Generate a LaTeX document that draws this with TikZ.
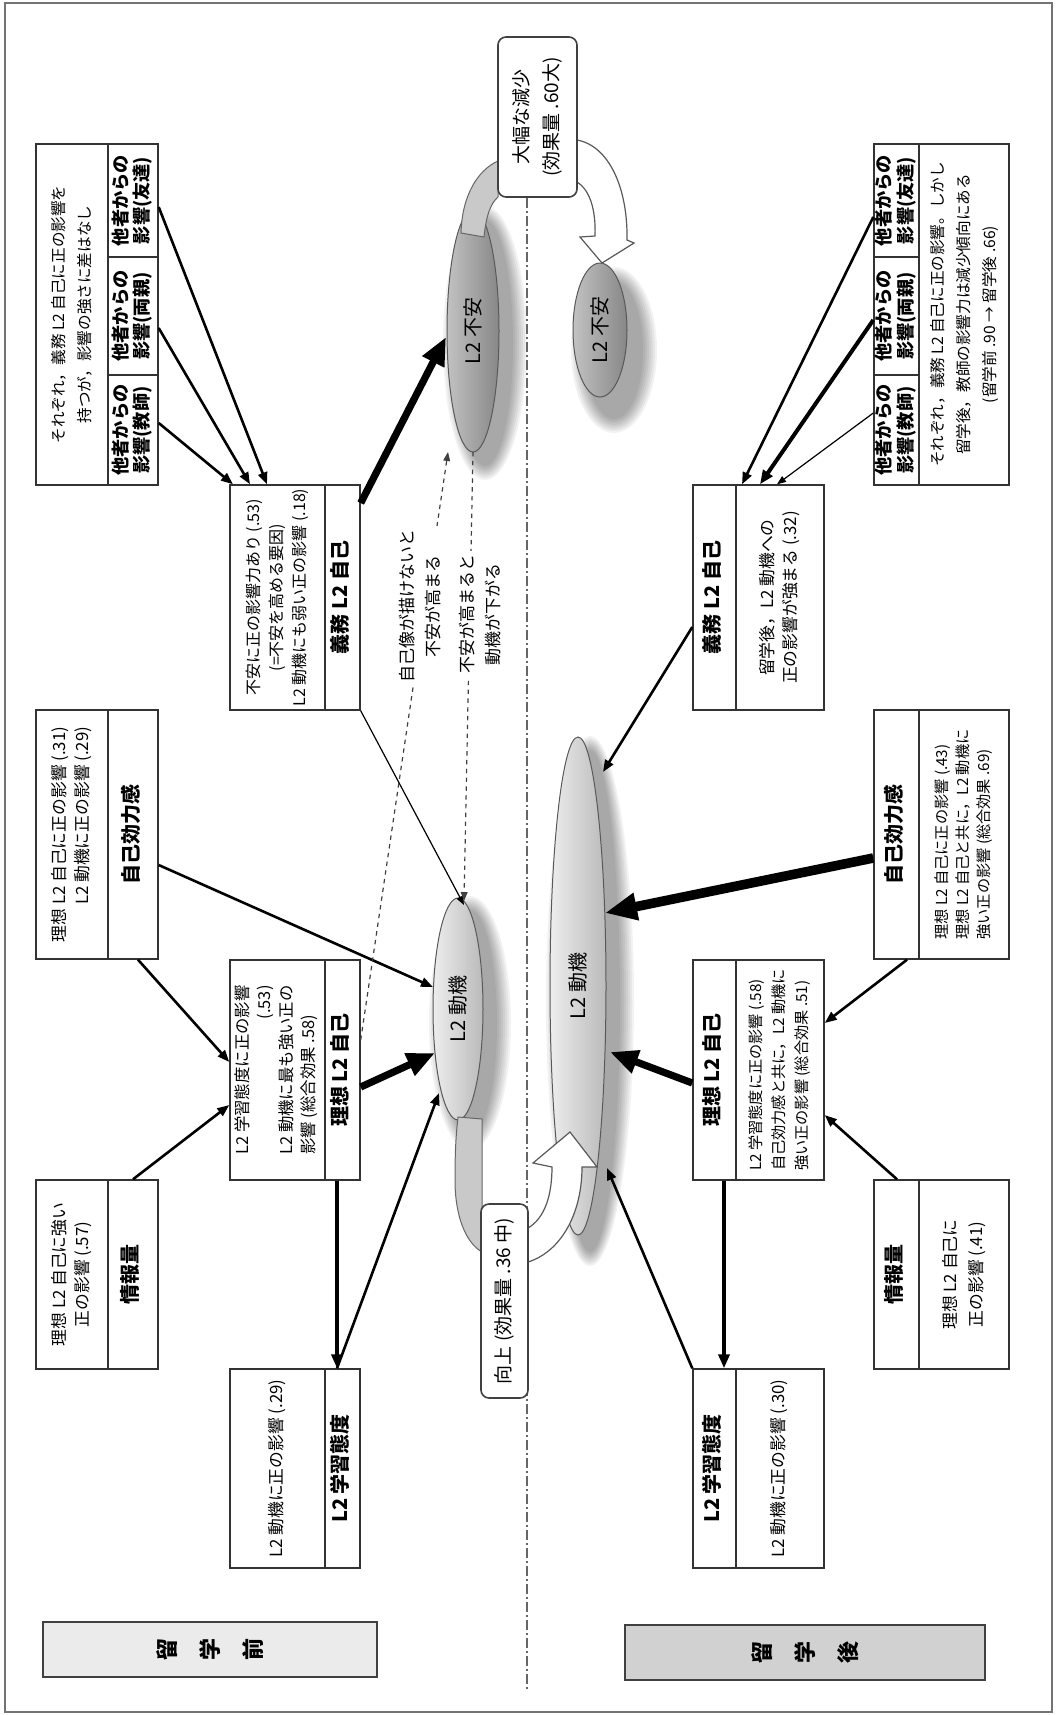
\documentclass[tikz,border=0pt]{standalone}
\usepackage{fontspec}
\setmainfont{Noto Sans CJK JP}
\usepackage{graphicx}
\usetikzlibrary{arrows.meta,calc,shapes.geometric}

% text turned a quarter turn, several lines in one column
\newcommand\vt[2][c]{\rotatebox{90}{\begin{tabular}{@{}#1@{}}#2\end{tabular}}}
% a rectangular compartment given by its corners (x1,y1)-(x2,y2)
\newcommand\cellbox[7][]{%
  \node[cellst,#1,minimum width={(#5-#3)*0.5pt},minimum height={(#6-#4)*0.5pt}]
    (#2) at ({(#3+#5)/2},{(#4+#6)/2}) {#7};}
% soft drop shadow made of stacked translucent ellipses
\newcommand\softshadow[4]{%
  \foreach \k in {0,...,7}{%
    \fill[black,opacity=0.05] (#1,#2) ellipse ({#3+16-2*\k} and {#4+16-2*\k});}}
% three characters in vertical writing
\newcommand\tate[3]{\rotatebox{90}{#1}\hspace{11pt}\rotatebox{90}{#2}\hspace{11pt}\rotatebox{90}{#3}}

\begin{document}
\begin{tikzpicture}[x=0.5pt,y=-0.5pt,
  cellst/.style={draw=black!80,line width=0.7pt,inner sep=0pt,fill=white},
  desc/.style={font=\fontsize{8.4}{11.5}\selectfont},
  lab/.style={font=\fontsize{10}{12}\selectfont\bfseries},
  oth/.style={font=\fontsize{9.1}{9.6}\selectfont\bfseries},
  callout/.style={draw=black!75,line width=0.8pt,rounded corners=4pt,
    font=\fontsize{9.5}{15}\selectfont},
  period/.style={line width=0.8pt,draw=black!75,font=\fontsize{11}{12}\selectfont\bfseries},
  ellst/.style={ellipse,draw=black!65,line width=0.5pt,inner sep=0pt,
    font=\fontsize{10}{12}\selectfont},
  motive/.style={ellst,left color=black!7,right color=black!27},
  anxiety/.style={ellst,left color=black!24,right color=black!47},
  band/.style={fill=black!21,draw=black!60,line width=0.5pt},
  blockarrow/.style={fill=white,draw=black!65,line width=0.6pt},
  axisline/.style={draw=black!60,line width=0.6pt,dash pattern=on 5pt off 1.6pt on 0.8pt off 1.6pt},
  arrM/.style={line width=1.3pt,-{Triangle[length=6pt,width=4.6pt]}},
  arrT/.style={line width=0.6pt,-{Triangle[length=4.5pt,width=3.4pt]}},
  arrP/.style={line width=2pt,-{Triangle[length=7pt,width=5.5pt]}},
  arrV/.style={line width=1.8pt,-{Triangle[length=7pt,width=5.5pt]}},
  arrH/.style={line width=3.6pt,-{Triangle[length=14pt,width=11.5pt]}},
  arrX/.style={line width=4.8pt,-{Triangle[length=16pt,width=13pt]}},
  arrD/.style={line width=0.6pt,draw=black!75,dash pattern=on 2.2pt off 2.2pt,
    -{Triangle[length=4.5pt,width=3.4pt]}},
  dtext/.style={fill=white,inner sep=2pt,font=\fontsize{8.5}{13}\selectfont},
]
\useasboundingbox (0,0) rectangle (1057,1715);
\draw[black!55,line width=0.8pt] (5,3) rectangle (1052,1712);

% shadows behind the ellipses
\softshadow{485}{343}{26}{121}
\softshadow{614}{350}{27}{67}
\softshadow{470}{1023}{25}{111}
\softshadow{590}{1001}{28}{249}

% dividing axis between before and after
\coordinate (axistop) at (527,198);
\coordinate (axisend) at (527,1690);
\draw[axisline] (axistop) -- (axisend);

% ellipses
\node[anxiety,minimum width=26pt,minimum height=121pt] (anxB) at (473,331) {\rotatebox{90}{L2 不安}};
\node[anxiety,minimum width=27pt,minimum height=67pt] (anxA) at (600,330) {\rotatebox{90}{L2 不安}};
\node[motive,minimum width=25pt,minimum height=111pt] (motB) at (458,1009) {\rotatebox{90}{L2 動機}};
\node[motive,minimum width=28pt,minimum height=249pt] (motA) at (578,986) {\rotatebox{90}{L2 動機}};

% change bands and block arrows
\path[band] (461,233) -- (484,237) .. controls (486,217) and (490,204) .. (498,197)
  -- (498,161) .. controls (478,170) and (462,195) .. cycle;
\path[band] (458,1117) -- (482,1119) -- (482,1252) .. controls (465,1242) and (455,1215) .. (455,1180)
  .. controls (455,1150) and (456,1135) .. cycle;
\path[blockarrow] (577,140) .. controls (610,146) and (628,190) .. (627,240) -- (634,243) -- (602,263)
  -- (580,237) -- (595,236) .. controls (596,210) and (590,190) .. (577,182) -- cycle;
\path[blockarrow] (528,1228) .. controls (545,1218) and (552,1195) .. (552,1167) -- (533,1163)
  -- (570,1132) -- (597,1167) -- (582,1167) .. controls (582,1215) and (560,1252) .. (528,1262) -- cycle;

% callouts
\cellbox[callout]{dec}{498}{37}{577}{197}{\vt{大幅な減少\\(効果量 .60大)}}
\cellbox[callout]{inc}{481}{1204}{528}{1398}{\vt{向上 (効果量 .36 中)}}

% ---- before ----
\cellbox[desc,font=\fontsize{7.8}{13}\selectfont]{othBd}{36}{144}{108}{485}{\vt{それぞれ，義務 L2 自己に正の影響を\\持つが，影響の強さに差はなし}}
\cellbox[oth]{othB1}{108}{144}{158}{257}{\vt{他者からの\\影響(友達)}}
\cellbox[oth]{othB2}{108}{257}{158}{375}{\vt{他者からの\\影響(両親)}}
\cellbox[oth]{othB3}{108}{375}{158}{485}{\vt{他者からの\\影響(教師)}}
\cellbox[desc]{effBd}{36}{710}{108}{959}{\vt[r]{理想 L2 自己に正の影響 (.31)\\L2 動機に正の影響 (.29)}}
\cellbox[lab]{effBl}{108}{710}{158}{959}{\vt{自己効力感}}
\cellbox[desc]{infBd}{36}{1180}{108}{1369}{\vt{理想 L2 自己に強い\\正の影響 (.57)}}
\cellbox[lab]{infBl}{108}{1180}{158}{1369}{\vt{情報量}}
\cellbox[desc,font=\fontsize{8}{11.5}\selectfont]{oblBd}{230}{485}{325}{710}{\vt{不安に正の影響力あり (.53)\\(=不安を高める要因)\\L2 動機にも弱い正の影響 (.18)}}
\cellbox[lab]{oblBl}{325}{485}{360}{710}{\vt{義務 L2 自己}}
\cellbox[desc,font=\fontsize{8.2}{11}\selectfont]{ideBd}{230}{960}{325}{1180}{\vt[l]{L2 学習態度に正の影響\\\hfill(.53)\\L2 動機に最も強い正の\\影響 (総合効果 .58)}}
\cellbox[lab]{ideBl}{325}{960}{360}{1180}{\vt{理想 L2 自己}}
\cellbox[desc]{lrnBd}{230}{1369}{325}{1568}{\vt{L2 動機に正の影響 (.29)}}
\cellbox[lab]{lrnBl}{325}{1369}{360}{1568}{\vt{L2 学習態度}}

% ---- after ----
\cellbox[desc,font=\fontsize{7.8}{13}\selectfont]{othAd}{919}{144}{1009}{485}{\vt{それぞれ，義務 L2 自己に正の影響。しかし\\留学後，教師の影響力は減少傾向にある\\(留学前 .90 → 留学後 .66)}}
\cellbox[oth]{othA1}{874}{144}{919}{257}{\vt{他者からの\\影響(友達)}}
\cellbox[oth]{othA2}{874}{257}{919}{375}{\vt{他者からの\\影響(両親)}}
\cellbox[oth]{othA3}{874}{375}{919}{485}{\vt{他者からの\\影響(教師)}}
\cellbox[lab]{oblAl}{693}{485}{736}{710}{\vt{義務 L2 自己}}
\cellbox[desc]{oblAd}{736}{485}{824}{710}{\vt{留学後，L2 動機への\\正の影響が強まる (.32)}}
\cellbox[lab]{effAl}{874}{710}{919}{959}{\vt{自己効力感}}
\cellbox[desc,font=\fontsize{7.6}{10.5}\selectfont]{effAd}{919}{710}{1009}{959}{\vt[l]{理想 L2 自己に正の影響 (.43)\\理想 L2 自己と共に，L2 動機に\\強い正の影響 (総合効果 .69)}}
\cellbox[lab]{ideAl}{693}{960}{736}{1180}{\vt{理想 L2 自己}}
\cellbox[desc,font=\fontsize{7.6}{11.5}\selectfont]{ideAd}{736}{960}{824}{1180}{\vt[l]{L2 学習態度に正の影響 (.58)\\自己効力感と共に，L2 動機に\\強い正の影響 (総合効果 .51)}}
\cellbox[lab]{infAl}{874}{1180}{919}{1369}{\vt{情報量}}
\cellbox[desc,font=\fontsize{8.4}{13}\selectfont]{infAd}{919}{1180}{1009}{1369}{\vt{理想 L2 自己に\\正の影響 (.41)}}
\cellbox[lab]{lrnAl}{693}{1369}{736}{1568}{\vt{L2 学習態度}}
\cellbox[desc]{lrnAd}{736}{1369}{824}{1568}{\vt{L2 動機に正の影響 (.30)}}

% ---- connectors, before ----
\draw[arrM] ($(othB1.east)+(0,6.5)$) -- ($(oblBd.north)+(-10.5,0)$);
\draw[arrM] ($(othB2.east)+(0,12)$) -- ($(oblBd.north)+(-27.5,0)$);
\draw[arrM] ($(othB3.east)+(0,-7)$) -- ($(oblBd.north)+(-44.5,0)$);
\draw[arrH] ($(oblBl.east)+(0,-94.5)$) -- ($(anxB.center)+(-27,6)$);
\draw[arrT] (oblBl.south east) -- ($(motB.center)+(6,-104)$);
\draw[arrM] ($(effBl.east)+(0,30.5)$) -- ($(motB.center)+(-25,-22)$);
\draw[arrM] ($(effBl.south)+(5,0)$) -- ($(ideBd.west)+(0,-8)$);
\draw[arrM] (infBl.north) -- ($(ideBd.west)+(0,35)$);
\draw[arrH] ($(ideBl.east)+(0,17)$) -- ($(motB.center)+(-23,44)$);
\draw[arrV] ($(ideBl.south)+(-5.5,0)$) -- ($(lrnBl.north)+(-5.5,0)$);
\draw[arrM] ($(lrnBl.north)+(-5.5,0)$) -- ($(motB.center)+(-19,84)$);

% ---- connectors, after ----
\draw[arrM] ($(othA1.west)+(0,16.5)$) -- ($(oblAd.north)+(-38,0)$);
\draw[arrP] ($(othA2.west)+(0,4)$) -- ($(oblAd.north)+(-20,0)$);
\draw[arrT] ($(othA3.west)+(0,-17)$) -- ($(oblAd.north)+(-3,0)$);
\draw[arrM] ($(oblAl.west)+(0,29.5)$) -- ($(motA.center)+(25,-214)$);
\draw[arrX] ($(effAl.west)+(0,23.5)$) -- ($(motA.center)+(27,-73)$);
\draw[arrM] ($(effAl.south)+(10.5,0)$) -- ($(ideAd.east)+(0,-47)$);
\draw[arrH] ($(ideAl.west)+(0,13)$) -- ($(motA.center)+(32,66)$);
\draw[arrM] ($(infAl.north)+(0.5,0)$) -- ($(ideAd.east)+(0,45)$);
\draw[arrV] ($(ideAl.south)+(9.5,0)$) -- ($(lrnAl.north)+(9.5,0)$);
\draw[arrM] (lrnAl.north west) -- ($(motA.center)+(29,182)$);

% ---- dashed influences with their notes ----
\draw[arrD] ($(ideBl.east)+(0,-30)$) -- ($(anxB.center)+(-25,121)$);
\draw[arrD] ($(anxB.center)+(0,121)$) -- ($(motB.center)+(6,-108)$);
\node[dtext] (noteA) at (421,606) {\vt{自己像が描けないと\\不安が高まる}};
\node[dtext] (noteB) at (481,614) {\vt{不安が高まると\\動機が下がる}};

% period labels
\cellbox[period,fill=black!8]{pre}{43}{1622}{377}{1677}{\tate{留}{学}{前}}
\cellbox[period,fill=black!18]{post}{625}{1625}{985}{1680}{\tate{留}{学}{後}}
\end{tikzpicture}
\end{document}
